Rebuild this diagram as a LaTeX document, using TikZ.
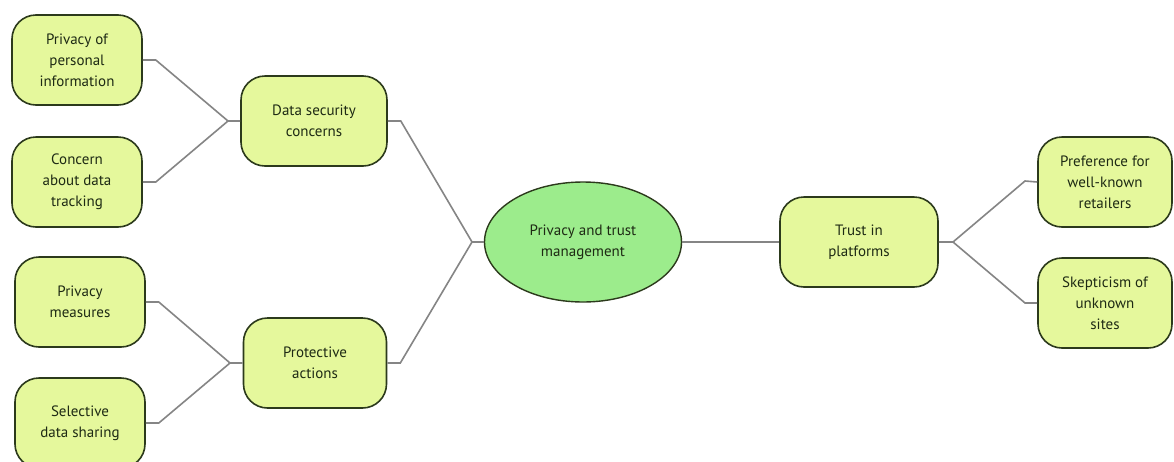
\documentclass[tikz,border=0pt]{standalone}
\usepackage{fontspec}
\setmainfont{PT Sans}
\usetikzlibrary{shapes.geometric}
\definecolor{boxfill}{HTML}{E5F89C}
\definecolor{hubfill}{HTML}{9CEC8C}
\definecolor{edge}{HTML}{2C3A1C}
\definecolor{wire}{HTML}{858585}
\definecolor{ink}{HTML}{1E2A14}
\tikzset{
  topic/.style={draw=edge, line width=1.6pt, fill=boxfill, rounded corners=24pt,
    minimum width=#1, minimum height=90pt, align=center, text=ink,
    font=\fontsize{15}{21}\selectfont, inner sep=0pt},
  topic/.default=130pt,
  hub/.style={ellipse, draw=edge, line width=1.4pt, fill=hubfill,
    minimum width=197pt, minimum height=120pt, align=center, text=ink,
    font=\fontsize{15}{21}\selectfont, inner sep=0pt},
  link/.style={draw=wire, line width=1.6pt}
}
\begin{document}
\begin{tikzpicture}[x=1pt,y=-1pt]
\useasboundingbox[fill=white] (0,0) rectangle (1174,461);
% central hub
\node[hub] (hub) at (583,242) {Privacy and trust\\management};
% left branches
\node[topic=146pt] (sec) at (314,121) {Data security\\concerns};
\node[topic=143pt] (act) at (315,363) {Protective\\actions};
\node[topic] (pi) at (77,60) {Privacy of\\personal\\information};
\node[topic] (trk) at (77,182) {Concern\\about data\\tracking};
\node[topic] (pm) at (80,302) {Privacy\\measures};
\node[topic] (sel) at (80,423) {Selective\\data sharing};
% right branches
\node[topic=158pt] (tru) at (859,242) {Trust in\\platforms};
\node[topic=134pt] (pre) at (1105,182) {Preference for\\well-known\\retailers};
\node[topic=134pt] (sk) at (1105,303) {Skepticism of\\unknown\\sites};
% junction points
\coordinate (jsec) at (228,121);
\coordinate (jact) at (230,363);
\coordinate (jhub) at (472,242);
\coordinate (jtru) at (953,242);
% connectors
\draw[link] (pi.east) -- ++(13,0) -- (jsec) -- (sec.west);
\draw[link] (trk.east) -- ++(13,0) -- (jsec);
\draw[link] (pm.east) -- ++(13,0) -- (jact) -- (act.west);
\draw[link] (sel.east) -- ++(13,0) -- (jact);
\draw[link] (sec.east) -- ++(13,0) -- (jhub) -- (hub.west);
\draw[link] (act.east) -- ++(13,0) -- (jhub);
\draw[link] (hub.east) -- (tru.west);
\draw[link] (tru.east) -- (jtru) -- ++(72,-61) -- (pre.west);
\draw[link] (jtru) -- ++(72,61) -- (sk.west);
\end{tikzpicture}
\end{document}
